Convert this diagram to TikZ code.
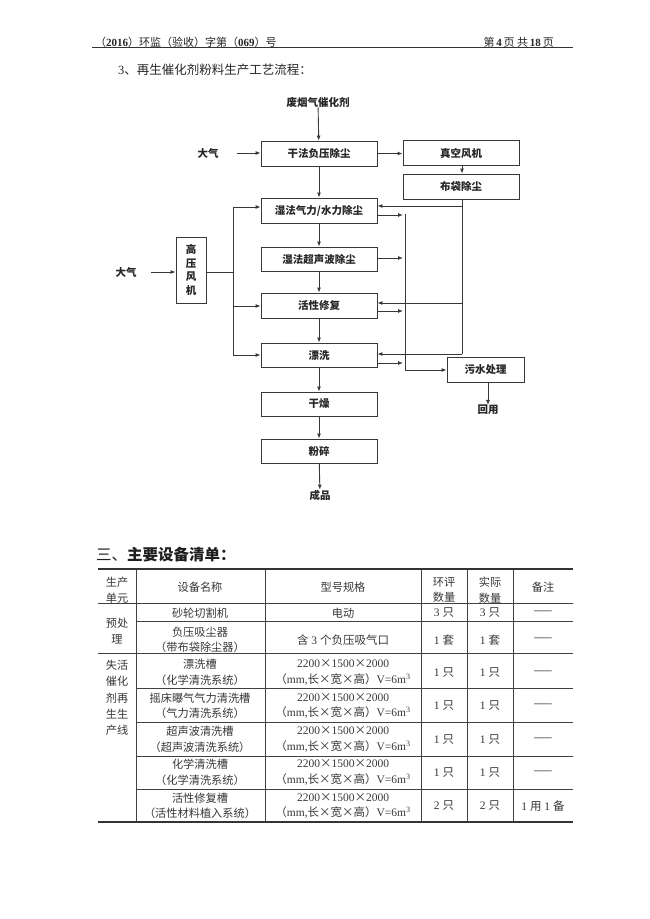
\documentclass[tikz,border=0pt]{standalone}
\usepackage{fontspec}
\setmainfont{Liberation Serif}
\newfontfamily\cjk{Noto Sans CJK SC}
\usetikzlibrary{arrows.meta,calc}
\begin{document}
\begin{tikzpicture}[x=1pt,y=-1pt,
  ln/.style={draw=black!78,line width=0.9pt},
  arr/.style={ln,-{Latex[length=5pt,width=4pt]}},
  box/.style={draw=black!78,line width=0.9pt,minimum width=116pt,minimum height=25pt,inner sep=0pt,font=\cjk\fontsize{10.5}{12}\selectfont\bfseries,text=black!85},
  lbl/.style={inner sep=0pt,font=\cjk\fontsize{10.5}{12}\selectfont\bfseries,text=black!85},
  tl/.style={draw=black!75,line width=0.7pt},
  tk/.style={draw=black!80,line width=1.8pt},
  tt/.style={inner sep=0pt,align=center,text=black!78,font=\cjk\fontsize{11.2}{15.5}\selectfont},
  tn/.style={inner sep=0pt,align=center,text=black!78,font=\fontsize{11.5}{15.5}\selectfont}
]
\useasboundingbox (0,0) rectangle (650,919);
\fill[white] (0,0) rectangle (650,919);

% header
\node[anchor=west,inner sep=0pt,font=\fontsize{11}{13}\selectfont,text=black!85] (hdl) at (95,42)
  {{\cjk （}\textbf{2016}{\cjk ）环监（验收）字第（}\textbf{069}{\cjk ）号}};
\node[anchor=east,inner sep=0pt,font=\fontsize{11}{13}\selectfont,text=black!85] (hdr) at (554,42)
  {{\cjk 第}\,\textbf{4}\,{\cjk 页 共}\,\textbf{18}\,{\cjk 页}};
\draw[draw=black!80,line width=1.2pt] (92,47.5) -- (573,47.5);

\node[anchor=west,inner sep=0pt,font=\fontsize{12.5}{14}\selectfont,text=black!85] (sec3) at (118,70)
  {3{\cjk 、再生催化剂粉料生产工艺流程：}};

% flowchart nodes
\node[lbl] (src) at (318,102) {废烟气催化剂};
\node[box] (b1) at (319,153.5) {干法负压除尘};
\node[box] (b2) at (461,153) {真空风机};
\node[box] (b3) at (461,186.5) {布袋除尘};
\node[box] (b4) at (319,210.5) {湿法气力/水力除尘};
\node[box,minimum height=24pt] (b5) at (319,259) {湿法超声波除尘};
\node[box] (b6) at (319,305.5) {活性修复};
\node[box,minimum height=24pt] (b7) at (319,355) {漂洗};
\node[box,minimum height=24pt] (b8) at (319,404) {干燥};
\node[box,minimum height=24pt] (b9) at (319,451) {粉碎};
\node[lbl] (out) at (320,495) {成品};
\node[box,minimum width=30pt,minimum height=66pt,align=center,font=\cjk\fontsize{10.5}{13.5}\selectfont\bfseries] (hp) at (191,270) {高\\压\\风\\机};
\node[lbl] (air1) at (208,153) {大气};
\node[lbl] (air2) at (126,272) {大气};
\node[box,minimum width=77pt] (ww) at (485.5,370) {污水处理};
\node[lbl] (reuse) at (488,410) {回用};

% collectors
\coordinate (rTop) at (462,199);
\coordinate (cTop) at (405,214);
\coordinate (cBot) at (405,370);
\coordinate (lTop) at (233,207);
\coordinate (lBot) at (233,355);

% main chain
\draw[arr] (src) -- (b1);
\draw[arr,shorten <=18pt] (air1.east) -- (air1.east -| b1.west);
\draw[arr] (b1.east) -- (b1.east -| b2.west);
\draw[arr] (b2.south -| rTop) -- (b3.north -| rTop);
\draw[arr] (b1) -- (b4);
\draw[arr] (b4) -- (b5);
\draw[arr] (b5) -- (b6);
\draw[arr] (b6) -- (b7);
\draw[arr] (b7) -- (b8);
\draw[arr] (b8) -- (b9);
\draw[arr] (b9) -- (out);

% return line from bag filter
\draw[ln] (b3.south -| rTop) -- (462,354);
\draw[arr] (462,206) -- (b4.east |- 0,206);
\draw[arr] (462,303) -- (b6.east |- 0,303);
\draw[arr] (462,354) -- (b7.east |- 0,354);

% outgoing to waste water
\draw[ln] (cTop) -- (cBot);
\draw[arr] (b4.east |- 0,215) -- (403,215);
\draw[arr] (b5.east |- 0,258) -- (403,258);
\draw[arr] (b6.east |- 0,311) -- (403,311);
\draw[arr] (b7.east |- 0,363) -- (403,363);
\draw[arr] (cBot) -- (ww.west);
\draw[arr] (ww.south -| reuse) -- (reuse.north);

% high pressure fan
\draw[arr,shorten <=14pt] (air2.east) -- (air2.east -| hp.west);
\draw[ln] (hp.east |- 0,272) -- (233,272);
\draw[ln] (lTop) -- (lBot);
\draw[arr] (lTop) -- (lTop -| b4.west);
\draw[arr] (233,306) -- (b6.west |- 0,306);
\draw[arr] (lBot) -- (lBot -| b7.west);

% section title
\node[anchor=west,inner sep=0pt,font=\cjk\fontsize{15.5}{17}\selectfont,text=black!88] (sec) at (96,555)
  {三、\textbf{主要设备清单：}};

% table rules
\draw[tk] (98,569) -- (573,569);
\draw[tk] (98,822) -- (573,822);
\draw[tl] (98,603) -- (573,603);
\draw[tl] (136,621) -- (573,621);
\draw[tl] (98,653) -- (573,653);
\draw[tl] (136,688) -- (573,688);
\draw[tl] (136,722) -- (573,722);
\draw[tl] (136,756) -- (573,756);
\draw[tl] (136,789) -- (573,789);
\foreach \xx in {136,265,421,467,513} \draw[tl] (\xx,569) -- (\xx,822);

% header row
\node[tt] (h1) at (117,590) {生产\\单元};
\node[tt] (h2) at (200,587) {设备名称};
\node[tt] (h3) at (343,587) {型号规格};
\node[tt] (h4) at (444,590) {环评\\数量};
\node[tt] (h5) at (490,590) {实际\\数量};
\node[tt] (h6) at (543,587) {备注};

% pre-treatment
\node[tt] (p0) at (117,631) {预处\\理};
\node[tt] (r1a) at (200,613) {砂轮切割机};
\node[tt] (r1b) at (343,613) {电动};
\node[tn] (r1c) at (444,613) {3\ {\cjk 只}};
\node[tn] (r1d) at (490,613) {3\ {\cjk 只}};
\node[tt] (r1e) at (543,613) {——};
\node[tt] (r2a) at (200,640) {负压吸尘器\\（带布袋除尘器）};
\node[tn] (r2b) at (343,640) {{\cjk 含}\ 3\ {\cjk 个负压吸气口}};
\node[tn] (r2c) at (444,640) {1\ {\cjk 套}};
\node[tn] (r2d) at (490,640) {1\ {\cjk 套}};
\node[tt] (r2e) at (543,640) {——};

% regeneration line
\node[tt,font=\cjk\fontsize{11.2}{16.3}\selectfont] (p1) at (117,698) {失活\\催化\\剂再\\生生\\产线};

\newcommand{\specA}{2200{\cjk ×}1500{\cjk ×}2000\\{\cjk （}mm,{\cjk 长×宽×高）}V=6m\textsuperscript{3}}

\node[tt] (r3a) at (200,672.5) {漂洗槽\\（化学清洗系统）};
\node[tn] (r3b) at (343,672.5) {\specA};
\node[tn] (r3c) at (444,673) {1\ {\cjk 只}};
\node[tn] (r3d) at (490,673) {1\ {\cjk 只}};
\node[tt] (r3e) at (543,673) {——};

\node[tt] (r4a) at (200,706) {摇床曝气气力清洗槽\\（气力清洗系统）};
\node[tn] (r4b) at (343,706) {\specA};
\node[tn] (r4c) at (444,706) {1\ {\cjk 只}};
\node[tn] (r4d) at (490,706) {1\ {\cjk 只}};
\node[tt] (r4e) at (543,706) {——};

\node[tt] (r5a) at (200,739.5) {超声波清洗槽\\（超声波清洗系统）};
\node[tn] (r5b) at (343,739.5) {\specA};
\node[tn] (r5c) at (444,740) {1\ {\cjk 只}};
\node[tn] (r5d) at (490,740) {1\ {\cjk 只}};
\node[tt] (r5e) at (543,740) {——};

\node[tt] (r6a) at (200,772.5) {化学清洗槽\\（化学清洗系统）};
\node[tn] (r6b) at (343,772.5) {\specA};
\node[tn] (r6c) at (444,773) {1\ {\cjk 只}};
\node[tn] (r6d) at (490,773) {1\ {\cjk 只}};
\node[tt] (r6e) at (543,773) {——};

\node[tt] (r7a) at (200,806) {活性修复槽\\（活性材料植入系统）};
\node[tn] (r7b) at (343,806) {\specA};
\node[tn] (r7c) at (444,806) {2\ {\cjk 只}};
\node[tn] (r7d) at (490,806) {2\ {\cjk 只}};
\node[tn] (r7e) at (543,806) {1\ {\cjk 用}\ 1\ {\cjk 备}};
\end{tikzpicture}
\end{document}
